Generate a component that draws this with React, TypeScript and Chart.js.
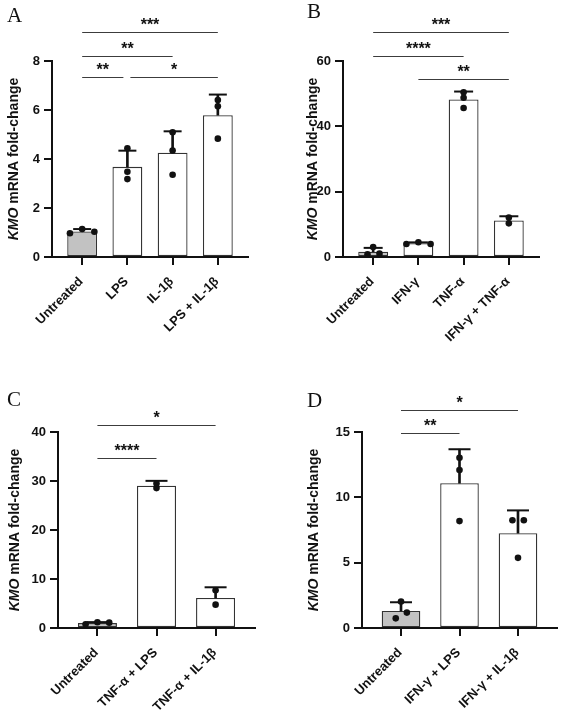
import React, { useEffect, useRef } from 'react';
import { Chart, registerables } from 'chart.js';

Chart.register(...registerables);

// ---------- Panel A ----------
const catsA = ['Untreated', 'LPS', 'IL-1β', 'LPS + IL-1β'];
const meanA = [1.04, 3.68, 4.26, 5.79];
const sdA = [0.1, 0.66, 0.87, 0.84];
const ptsA = [[0.97, 1.14, 1.03], [4.44, 3.48, 3.18], [5.09, 4.35, 3.36], [6.41, 6.15, 4.83]];
const jitA = [[-0.27, 0, 0.27], [0, 0, 0], [0, 0, 0], [0, 0, 0]];
const yTicksA = [0, 2, 4, 6, 8];
const sigA: [number, number, string, number][] = [
  [0, 1, '**', 7.35],
  [1, 3, '*', 7.35],
  [0, 2, '**', 8.2],
  [0, 3, '***', 9.18],
];

// ---------- Panel B ----------
const catsB = ['Untreated', 'IFN-γ', 'TNF-α', 'IFN-γ + TNF-α'];
const meanB = [1.64, 4.19, 48.25, 11.2];
const sdB = [1.15, 0.29, 2.4, 1.27];
const ptsB = [[0.82, 3.07, 1.02], [3.99, 4.5, 3.99], [50.4, 48.76, 45.6], [12.1, 10.3]];
const jitB = [[-0.125, 0, 0.14], [-0.265, 0, 0.27], [0, 0, 0], [0, 0]];
const yTicksB = [0, 20, 40, 60];
const sigB: [number, number, string, number][] = [
  [1, 3, '**', 54.5],
  [0, 2, '****', 61.5],
  [0, 3, '***', 68.9],
];

// ---------- Panel C ----------
const catsC = ['Untreated', 'TNF-α + LPS', 'TNF-α + IL-1β'];
const meanC = [1.0, 29.03, 6.13];
const sdC = [0.2, 1.0, 2.18];
const ptsC = [[0.75, 1.16, 1.09], [29.5, 28.55], [7.7, 4.77]];
const jitC = [[-0.2, 0, 0.2], [0, 0], [0, 0]];
const yTicksC = [0, 10, 20, 30, 40];
const sigC: [number, number, string, number][] = [
  [0, 1, '****', 34.7],
  [0, 2, '*', 41.4],
];

// ---------- Panel D ----------
const catsD = ['Untreated', 'IFN-γ + LPS', 'IFN-γ + IL-1β'];
const meanD = [1.3, 11.08, 7.26];
const sdD = [0.67, 2.6, 1.74];
const ptsD = [[0.74, 2.02, 1.18], [13.03, 12.09, 8.18], [8.25, 8.25, 5.37]];
const jitD = [[-0.09, 0, 0.1], [0, 0, 0], [-0.095, 0.1, 0]];
const yTicksD = [0, 5, 10, 15];
const sigD: [number, number, string, number][] = [
  [0, 1, '**', 14.9],
  [0, 2, '*', 16.7],
];

const SANS = '"Liberation Sans", Arial, Helvetica, sans-serif';
const SERIF = '"Liberation Serif", "Times New Roman", Times, serif';
const INK = '#111111';
const GRAY = '#c2c2c2';

type PanelCfg = {
  letter: string;
  cats: string[];
  mean: number[];
  sd: number[];
  pts: number[][];
  jit: number[][];
  yTicks: number[];
  sig: [number, number, string, number][];
  left: number;
  top: number;
  w: number;
  h: number;
  yAxisW: number;
  xAxisH: number;
  padTop: number;
  padRight: number;
  capR: number;
  letterX: number;
  letterY: number;
  titleX: number;
};

const panels: PanelCfg[] = [
  {
    letter: 'A', cats: catsA, mean: meanA, sd: sdA, pts: ptsA, jit: jitA, yTicks: yTicksA, sig: sigA,
    left: 0, top: 0, w: 280, h: 370, yAxisW: 52, xAxisH: 113, padTop: 61, padRight: 32, capR: 9,
    letterX: 7, letterY: 22, titleX: 14,
  },
  {
    letter: 'B', cats: catsB, mean: meanB, sd: sdB, pts: ptsB, jit: jitB, yTicks: yTicksB, sig: sigB,
    left: 280, top: 0, w: 281, h: 370, yAxisW: 63, xAxisH: 113, padTop: 61, padRight: 22, capR: 9.5,
    letterX: 27, letterY: 18, titleX: 33,
  },
  {
    letter: 'C', cats: catsC, mean: meanC, sd: sdC, pts: ptsC, jit: jitC, yTicks: yTicksC, sig: sigC,
    left: 0, top: 370, w: 280, h: 342, yAxisW: 58, xAxisH: 84, padTop: 62, padRight: 25, capR: 11,
    letterX: 7, letterY: 36, titleX: 15,
  },
  {
    letter: 'D', cats: catsD, mean: meanD, sd: sdD, pts: ptsD, jit: jitD, yTicks: yTicksD, sig: sigD,
    left: 280, top: 370, w: 281, h: 342, yAxisW: 82, xAxisH: 84, padTop: 62, padRight: 4, capR: 11,
    letterX: 27, letterY: 37, titleX: 34,
  },
];

function decorPlugin(p: PanelCfg) {
  return {
    id: 'decor' + p.letter,
    afterDraw(chart: any) {
      const ctx = chart.ctx as CanvasRenderingContext2D;
      const xs = chart.scales.x;
      const ys = chart.scales.y;
      const area = chart.chartArea;

      // panel letter
      ctx.save();
      ctx.fillStyle = INK;
      ctx.font = `21px ${SERIF}`;
      ctx.textAlign = 'left';
      ctx.textBaseline = 'alphabetic';
      ctx.fillText(p.letter, p.letterX, p.letterY);
      ctx.restore();

      // y axis title with italic gene name
      ctx.save();
      ctx.translate(p.titleX, (area.top + area.bottom) / 2);
      ctx.rotate(-Math.PI / 2);
      ctx.fillStyle = INK;
      ctx.textBaseline = 'middle';
      ctx.textAlign = 'left';
      const fI = `italic bold 14px ${SANS}`;
      const fB = `bold 14px ${SANS}`;
      const t1 = 'KMO';
      const t2 = ' mRNA fold-change';
      ctx.font = fI;
      const w1 = ctx.measureText(t1).width;
      ctx.font = fB;
      const w2 = ctx.measureText(t2).width;
      const start = -(w1 + w2) / 2;
      ctx.font = fI;
      ctx.fillText(t1, start, 0);
      ctx.font = fB;
      ctx.fillText(t2, start + w1, 0);
      ctx.restore();

      // significance brackets
      ctx.save();
      for (const s of p.sig) {
        const [a, b, label, yv] = s;
        let x1 = xs.getPixelForValue(a);
        let x2 = xs.getPixelForValue(b);
        for (const o of p.sig) {
          if (o === s || o[3] !== yv) continue;
          if (o[0] === b) x2 -= 4;
          if (o[1] === a) x1 += 3;
        }
        const py = Math.round(ys.getPixelForValue(yv)) + 0.5;
        ctx.strokeStyle = '#3c3c3c';
        ctx.lineWidth = 1.2;
        ctx.beginPath();
        ctx.moveTo(x1, py);
        ctx.lineTo(x2, py);
        ctx.stroke();
        ctx.fillStyle = INK;
        ctx.font = `bold 16px ${SANS}`;
        ctx.textAlign = 'center';
        ctx.textBaseline = 'alphabetic';
        ctx.fillText(label, (x1 + x2) / 2, py - 2.5);
      }
      ctx.restore();
    },
  };
}

function buildConfig(p: PanelCfg): any {
  const n = p.cats.length;
  const pointData: { x: number; y: number }[] = [];
  p.pts.forEach((arr, i) => arr.forEach((v, j) => pointData.push({ x: i + p.jit[i][j], y: v })));
  const capData = p.mean.map((m, i) => ({ x: i, y: m + p.sd[i] }));
  const errData = p.mean.map((m, i) => ({ x: i, y: [m, m + p.sd[i]] }));
  const barData = p.mean.map((m, i) => ({ x: i, y: m }));
  const fills = p.cats.map((_, i) => (i === 0 ? GRAY : '#ffffff'));
  const yMax = p.yTicks[p.yTicks.length - 1];

  const axisCommon = {
    grid: { display: true, offset: false, drawOnChartArea: false, drawTicks: true, tickLength: 8, color: INK, lineWidth: 2 },
    border: { display: true, color: INK, width: 2 },
  };

  return {
    type: 'bar',
    data: {
      datasets: [
        {
          type: 'scatter', data: pointData, order: 0,
          pointRadius: 3.3, pointBackgroundColor: INK, pointBorderWidth: 0, pointStyle: 'circle',
        },
        {
          type: 'scatter', data: capData, order: 1,
          pointStyle: 'line', pointRadius: p.capR, pointBorderColor: INK, pointBorderWidth: 2,
        },
        {
          type: 'bar', data: errData, order: 2, grouped: false,
          backgroundColor: INK, borderWidth: 0, barThickness: 2,
        },
        {
          type: 'bar', data: barData, order: 3,
          backgroundColor: fills, borderColor: '#333333', borderWidth: 1.3, borderSkipped: false,
          barPercentage: 0.66, categoryPercentage: 1,
        },
      ],
    },
    options: {
      animation: false,
      responsive: false,
      maintainAspectRatio: false,
      events: [],
      layout: { autoPadding: false, padding: { top: p.padTop, right: p.padRight, left: 0, bottom: 0 } },
      plugins: {
        legend: { display: false },
        tooltip: { enabled: false },
        title: { display: false },
      },
      scales: {
        x: {
          type: 'linear',
          min: -0.667,
          max: n - 1 + 0.667,
          offset: false,
          afterBuildTicks: (s: any) => { s.ticks = p.cats.map((_, i) => ({ value: i })); },
          afterFit: (s: any) => { s.height = p.xAxisH; s.paddingLeft = 0; s.paddingRight = 0; },
          ticks: {
            autoSkip: false, minRotation: 45, maxRotation: 45, padding: 9, labelOffset: -1, color: INK,
            font: { family: SANS, size: 13, weight: 'bold' },
            callback: (v: number) => p.cats[Math.round(v)],
          },
          ...axisCommon,
        },
        y: {
          type: 'linear',
          min: 0,
          max: yMax,
          afterBuildTicks: (s: any) => { s.ticks = p.yTicks.map((v) => ({ value: v })); },
          afterFit: (s: any) => { s.width = p.yAxisW; s.paddingTop = 0; s.paddingBottom = 0; },
          ticks: {
            padding: 4, color: INK,
            font: { family: SANS, size: 13, weight: 'bold' },
          },
          ...axisCommon,
        },
      },
    },
    plugins: [decorPlugin(p)],
  };
}

function Panel({ cfg }: { cfg: PanelCfg }) {
  const ref = useRef<HTMLCanvasElement>(null);
  useEffect(() => {
    const chart = new Chart(ref.current as HTMLCanvasElement, buildConfig(cfg));
    return () => chart.destroy();
  }, [cfg]);
  return (
    <canvas
      ref={ref}
      width={cfg.w}
      height={cfg.h}
      style={{ position: 'absolute', left: cfg.left, top: cfg.top, width: cfg.w, height: cfg.h }}
    />
  );
}

export default function App() {
  return (
    <div style={{ position: 'absolute', left: 0, top: 0, width: 561, height: 712, background: '#ffffff', overflow: 'hidden' }}>
      {panels.map((p) => (
        <Panel key={p.letter} cfg={p} />
      ))}
    </div>
  );
}
